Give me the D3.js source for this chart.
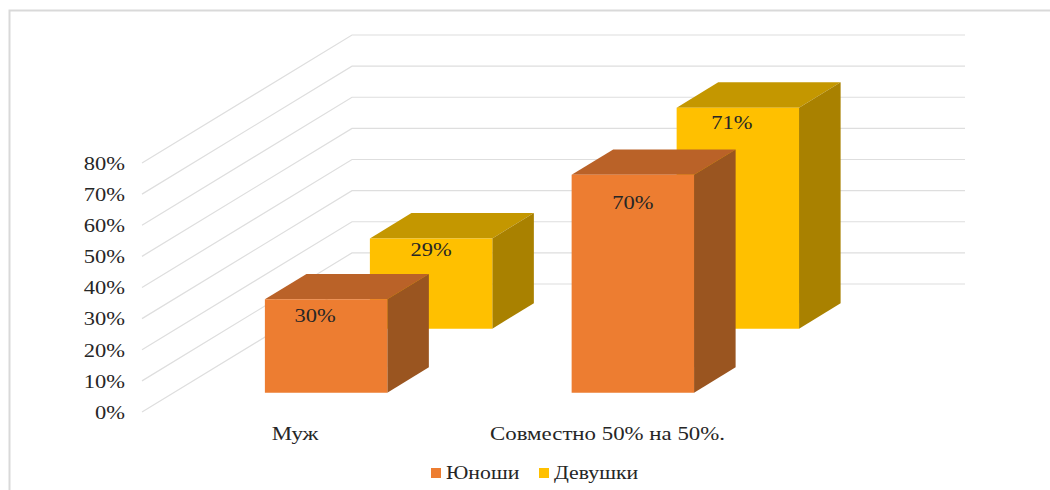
<!DOCTYPE html>
<html>
<head>
<meta charset="utf-8">
<style>
  html, body { margin: 0; padding: 0; background: #fff; }
  svg { display: block; }
  text { font-family: "Liberation Serif", serif; fill: #262626; }
</style>
</head>
<body>
<script src="https://d3js.org/d3.v7.min.js"></script>
<script>
const categories = ["Муж", "Совместно 50% на 50%."];
const seriesNames = ["Юноши", "Девушки"];
const boysValues = [30, 70];
const girlsValues = [29, 71];
const yTicks = [0, 10, 20, 30, 40, 50, 60, 70, 80];

const seriesValues = [boysValues, girlsValues];
const faceColors = [
  { front: "#ed7d31", top: "#ba6228", side: "#9a5520" },
  { front: "#ffc000", top: "#c49700", side: "#a98100" }
];

const width = 1050, height = 490;
const depthX = 210, depthY = 128;   // how far the floor runs back
const fontSize = 18;
const stretch = 1.25;               // the text in the picture is wider than normal

const svg = d3.select("body").append("svg")
  .attr("width", width).attr("height", height);

// frame
svg.append("path")
  .attr("d", `M9.5,${height}V10.5H${width}`)
  .attr("fill", "none").attr("stroke", "#d9d9d9").attr("stroke-width", 2);

const x = d3.scaleBand().domain(categories).range([141, 754.5])
  .paddingInner(0.601).paddingOuter(0.3005);
const y = d3.scaleLinear().domain([0, 80]).range([412, 163]);
const depth = d3.scaleBand().domain(seriesNames).range([0, 1])
  .paddingInner(0.604).paddingOuter(0.302);

const px = (xv, d) => xv + d * depthX;
const py = (v, d) => y(v) - d * depthY;
const line = d3.line();

// gridlines: side wall then back wall
svg.append("g").selectAll("path").data(yTicks).join("path")
  .attr("d", t => line([[142, y(t)], [px(142, 1), py(t, 1)], [965, py(t, 1)]]))
  .attr("fill", "none").attr("stroke", "#dedede").attr("stroke-width", 1.2);

// y axis labels
const yAxis = d3.axisLeft(y).tickValues(yTicks).tickSize(0).tickFormat(d => d + "%");
const yG = svg.append("g").attr("transform", "translate(125,0)").call(yAxis);
yG.select(".domain").remove();
yG.selectAll("text")
  .attr("x", 0).attr("dy", "0.32em")
  .attr("transform", `translate(0,0.5) scale(${stretch},1)`)
  .style("font-size", fontSize + "px").style("font-family", "'Liberation Serif', serif");

// bars, back series first
const barData = [];
[1, 0].forEach(s => categories.forEach((c, i) => {
  barData.push({ s, i, cat: c, value: seriesValues[s][i] });
}));

// the labels are not centred in the bars in the original: [dx, dy from bar top]
const labelShift = [
  [[-11, 23], [0, 34]],
  [[0, 18], [-6, 21]]
];

const bars = svg.append("g").selectAll("g").data(barData).join("g");

bars.each(function (b) {
  const g = d3.select(this);
  const d0 = depth(seriesNames[b.s]), d1 = d0 + depth.bandwidth();
  const x0 = px(x(b.cat), d0), x1 = x0 + x.bandwidth();
  const dx = (d1 - d0) * depthX;
  const col = faceColors[b.s];
  const face = (pts, fill) => g.append("path")
    .attr("d", line(pts) + "Z").attr("fill", fill);

  face([[x0, py(b.value, d0)], [x1, py(b.value, d0)],
        [x1 + dx, py(b.value, d1)], [x0 + dx, py(b.value, d1)]], col.top);
  face([[x1, py(0, d0)], [x1, py(b.value, d0)],
        [x1 + dx, py(b.value, d1)], [x1 + dx, py(0, d1)]], col.side);
  face([[x0, py(0, d0)], [x0, py(b.value, d0)],
        [x1, py(b.value, d0)], [x1, py(0, d0)]], col.front);
});

// data labels
bars.append("text")
  .attr("text-anchor", "middle")
  .attr("transform", b => {
    const d0 = depth(seriesNames[b.s]);
    const [sx, sy] = labelShift[b.s][b.i];
    const lx = px(x(b.cat), d0) + x.bandwidth() / 2 + sx;
    const ly = py(b.value, d0) + sy;
    return `translate(${lx},${ly}) scale(${stretch},1)`;
  })
  .style("font-size", fontSize + "px")
  .text(b => b.value + "%");

// category labels
const catX = [295, 607.5];
svg.append("g").selectAll("text").data(categories).join("text")
  .attr("text-anchor", "middle")
  .attr("transform", (c, i) => `translate(${catX[i]},440) scale(1.27,1)`)
  .style("font-size", fontSize + "px")
  .text(c => c);

// legend
const legendX = [431, 539];
const legend = svg.append("g").selectAll("g").data(seriesNames).join("g")
  .attr("transform", (n, i) => `translate(${legendX[i]},468)`);
legend.append("rect")
  .attr("width", 10).attr("height", 10)
  .attr("fill", (n, i) => faceColors[i].front);
legend.append("text")
  .attr("transform", `translate(15,11) scale(1.21,1)`)
  .style("font-size", fontSize + "px")
  .text(n => n);
</script>
</body>
</html>
